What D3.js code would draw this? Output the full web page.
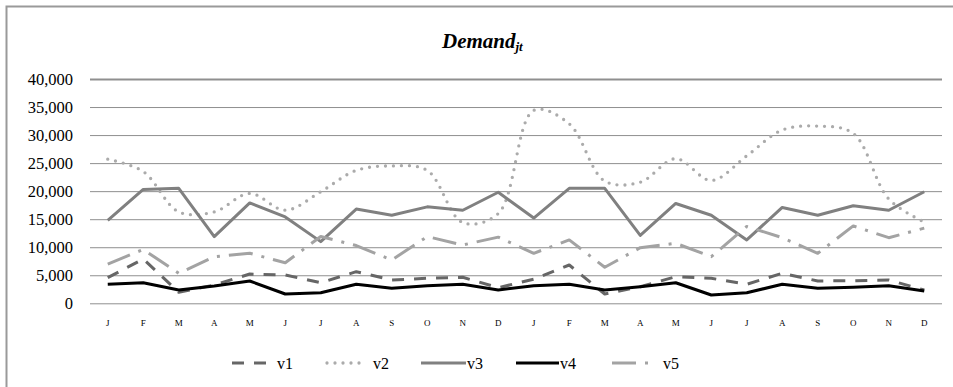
<!DOCTYPE html>
<html>
<head>
<meta charset="utf-8">
<script src="https://cdn.jsdelivr.net/npm/d3@7"></script>
<style>
  html, body { margin: 0; padding: 0; background: #fff; }
  svg { display: block; }
</style>
</head>
<body>
<svg id="chart" width="953" height="387"></svg>
<script>
// Monthly demand over two years, five series
const months = ["J","F","M","A","M","J","J","A","S","O","N","D",
                "J","F","M","A","M","J","J","A","S","O","N","D"];

const v1 = [4570, 7900, 1960, 3260, 5220, 5050, 3670, 5640, 4160, 4460, 4640, 2780,
            4300, 6830, 1660, 2960, 4740, 4460, 3390, 5350, 3980, 4030, 4160, 2370];
const v2 = [25700, 23500, 16300, 16300, 19600, 16600, 19900, 23700, 24500, 23700, 14400, 16000,
            34400, 32000, 21800, 21600, 25800, 21900, 26300, 30900, 31600, 30300, 18600, 14500];
const v3 = [14800, 20300, 20500, 11900, 17900, 15400, 11000, 16800, 15700, 17200, 16600, 19800,
            15200, 20500, 20500, 12100, 17800, 15700, 11300, 17100, 15700, 17400, 16600, 19900];
const v4 = [3390, 3670, 2370, 3090, 3980, 1660, 1890, 3390, 2670, 3140, 3390, 2370,
            3140, 3390, 2370, 2960, 3670, 1480, 1890, 3390, 2670, 2850, 3140, 2190];
const v5 = [7000, 9600, 5350, 8310, 8920, 7240, 11900, 10300, 7720, 11900, 10400, 11800,
            8920, 11300, 6420, 9920, 10700, 8310, 13700, 11700, 8920, 13800, 11700, 13400];

const yTicks = [0, 5000, 10000, 15000, 20000, 25000, 30000, 35000, 40000];
const seriesNames = ["v1", "v2", "v3", "v4", "v5"];

const SERIF = '"Liberation Serif"';

const svg = d3.select("#chart");

// outer chart frame
svg.append("rect")
  .attr("x", 6.5).attr("y", 6.5)
  .attr("width", 980).attr("height", 420)
  .attr("fill", "none").attr("stroke", "#9a9a9a").attr("stroke-width", 2);

const plot = { left: 90, right: 942, top: 79, bottom: 303.3 };

const x = d3.scaleBand()
  .domain(d3.range(months.length))
  .range([plot.left, plot.right]);
const xc = i => x(i) + x.bandwidth() / 2;

const y = d3.scaleLinear()
  .domain([0, 40000])
  .range([plot.bottom, plot.top]);

// y axis with horizontal gridlines
const yAxis = svg.append("g")
  .attr("transform", `translate(${plot.left},0)`)
  .call(d3.axisLeft(y)
    .tickValues(yTicks)
    .tickFormat(d3.format(","))
    .tickSize(-(plot.right - plot.left))
    .tickPadding(17));
yAxis.attr("font-family", null);
yAxis.select(".domain").remove();
yAxis.selectAll(".tick line")
  .attr("stroke", "#8f8f8f")
  .attr("stroke-width", d => d === 40000 ? 2 : 1);
yAxis.selectAll(".tick text")
  .style("font-family", SERIF)
  .style("font-size", "16.5px")
  .attr("fill", "#000");

// x axis: month initials
const xAxis = svg.append("g")
  .attr("transform", `translate(0,${plot.bottom})`)
  .call(d3.axisBottom(x)
    .tickFormat(i => months[i])
    .tickSize(0)
    .tickPadding(16));
xAxis.attr("font-family", null);
xAxis.select(".domain").remove();
xAxis.selectAll(".tick text")
  .style("font-family", SERIF)
  .style("font-size", "9px")
  .attr("fill", "#000");

// series styles
const styles = {
  v1: { color: "#666666", dash: "12 10", cap: "butt", curve: d3.curveLinear },
  v2: { color: "#ababab", dash: "0 8", cap: "round", curve: d3.curveCatmullRom.alpha(0.5) },
  v3: { color: "#808080", dash: null, cap: "butt", curve: d3.curveLinear },
  v4: { color: "#000000", dash: null, cap: "butt", curve: d3.curveLinear },
  v5: { color: "#a3a3a3", dash: "24 9 3 9", cap: "butt", curve: d3.curveLinear }
};
const data = { v1, v2, v3, v4, v5 };

seriesNames.forEach(name => {
  const s = styles[name];
  const line = d3.line()
    .x((d, i) => xc(i))
    .y(d => y(d))
    .curve(s.curve);
  svg.append("path")
    .datum(data[name])
    .attr("d", line)
    .attr("fill", "none")
    .attr("stroke", s.color)
    .attr("stroke-width", name === "v2" ? 3.3 : 3)
    .attr("stroke-linejoin", "round")
    .attr("stroke-linecap", s.cap)
    .attr("stroke-dasharray", s.dash);
});

// title
const title = svg.append("text")
  .attr("x", 442).attr("y", 48)
  .style("font-family", SERIF)
  .style("font-size", "21px")
  .style("font-weight", "bold")
  .style("font-style", "italic");
title.append("tspan").text("Demand");
title.append("tspan").attr("dy", 3).style("font-size", "13px").text("jt");

// legend
const legendX = [232, 327, 421, 516, 612];
const legendLen = [36, 37, 45, 43, 42];
const legend = svg.append("g");
seriesNames.forEach((name, k) => {
  const s = styles[name];
  const g = legend.append("g");
  g.append("line")
    .attr("x1", legendX[k]).attr("x2", legendX[k] + legendLen[k])
    .attr("y1", 363).attr("y2", 363)
    .attr("stroke", s.color)
    .attr("stroke-width", name === "v2" ? 3.3 : 3)
    .attr("stroke-linecap", s.cap)
    .attr("stroke-dasharray", s.dash);
  g.append("text")
    .attr("x", legendX[k] + legendLen[k] + (name === "v3" || name === "v4" ? 1 : 9))
    .attr("y", 369)
    .style("font-family", SERIF)
    .style("font-size", "16px")
    .text(name);
});
</script>
</body>
</html>
